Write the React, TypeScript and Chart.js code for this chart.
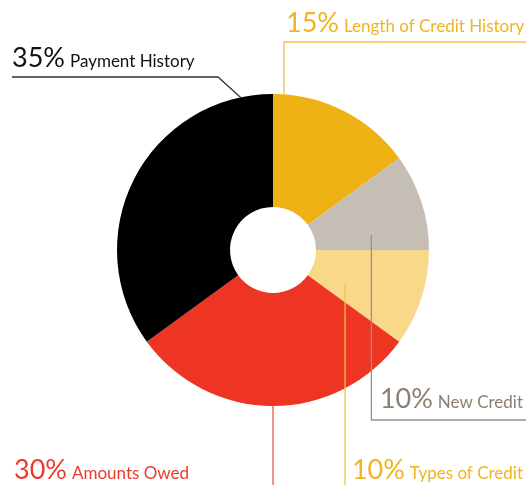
import React, { useEffect, useRef } from 'react';
import { Chart, registerables } from 'chart.js';
Chart.register(...registerables);

const categories = ['Length of Credit History', 'New Credit', 'Types of Credit', 'Amounts Owed', 'Payment History'];
const values = [15, 10, 10, 30, 35];
const percentLabels = ['15%', '10%', '10%', '30%', '35%'];
const segmentColors = ['#EFB215', '#C5BEB5', '#F8D98A', '#EE3524', '#000000'];
const textColors = ['#F0B323', '#8A8071', '#F0B323', '#EE3A2A', '#111111'];
const lineColors = ['#F3C24A', '#9A9284', '#F3C24A', '#E8594B', '#333333'];

const FONT = 'Lato, "Open Sans", sans-serif';

// callout layout: anchor inside arc (fraction along angle, fraction along radius), leader path, text position
const callouts = [
  { af: 0.074, rf: 1, path: (ax: number) => [[ax, 42], [526, 42]], tx: 286, ty: 32, align: 'left' },
  { af: 0.76, rf: 0.5, path: (ax: number) => [[ax, 420], [526, 420]], tx: 523, ty: 408, align: 'right' },
  { af: 0.68, rf: 0.32, path: (ax: number) => [[ax, 486]], tx: 523, ty: 479, align: 'right' },
  { af: 0.5, rf: 1, path: (ax: number) => [[ax, 486]], tx: 14, ty: 479, align: 'left' },
  { af: 0.905, rf: 1, path: (_ax: number) => [[218, 77], [12, 77]], tx: 12, ty: 67, align: 'left' },
];

const calloutPlugin = {
  id: 'callouts',
  afterDraw(chart: any) {
    const ctx = chart.ctx as CanvasRenderingContext2D;
    const meta = chart.getDatasetMeta(0);
    meta.data.forEach((arc: any, i: number) => {
      const c = callouts[i];
      const p = arc.getProps(['x', 'y', 'startAngle', 'endAngle', 'innerRadius', 'outerRadius'], true);
      const ang = p.startAngle + (p.endAngle - p.startAngle) * c.af;
      const r = p.innerRadius + (p.outerRadius - p.innerRadius) * c.rf;
      const ax = p.x + Math.cos(ang) * r;
      const ay = p.y + Math.sin(ang) * r;
      ctx.save();
      ctx.strokeStyle = lineColors[i];
      ctx.lineWidth = 1.3;
      ctx.beginPath();
      ctx.moveTo(ax, ay);
      c.path(ax).forEach(([x, y]) => ctx.lineTo(x, y));
      ctx.stroke();

      const bigFont = `27px ${FONT}`;
      const smallFont = `17px ${FONT}`;
      ctx.font = bigFont;
      const w1 = ctx.measureText(percentLabels[i]).width;
      ctx.font = smallFont;
      const w2 = ctx.measureText(categories[i]).width;
      const gap = 5;
      const start = c.align === 'left' ? c.tx : c.tx - (w1 + gap + w2);
      ctx.fillStyle = textColors[i];
      ctx.textBaseline = 'alphabetic';
      ctx.textAlign = 'left';
      ctx.font = bigFont;
      ctx.fillText(percentLabels[i], start, c.ty);
      ctx.font = smallFont;
      ctx.fillText(categories[i], start + w1 + gap, c.ty);
      ctx.restore();
    });
  },
};

export default function App() {
  const ref = useRef<HTMLCanvasElement | null>(null);
  useEffect(() => {
    if (!ref.current) return;
    const chart = new Chart(ref.current, {
      type: 'doughnut',
      data: {
        labels: categories,
        datasets: [{ data: values, backgroundColor: segmentColors, borderWidth: 0 }],
      },
      options: {
        animation: false,
        responsive: false,
        devicePixelRatio: 1,
        cutout: 43,
        layout: { padding: { left: 117, right: 97, top: 94, bottom: 79 } },
        plugins: { legend: { display: false }, tooltip: { enabled: false } },
      },
      plugins: [calloutPlugin],
    });
    return () => chart.destroy();
  }, []);
  return (
    <div style={{ position: 'fixed', left: 0, top: 0, width: 526, height: 485, background: '#fff' }}>
      <canvas ref={ref} width={526} height={485} style={{ display: 'block' }} />
    </div>
  );
}
